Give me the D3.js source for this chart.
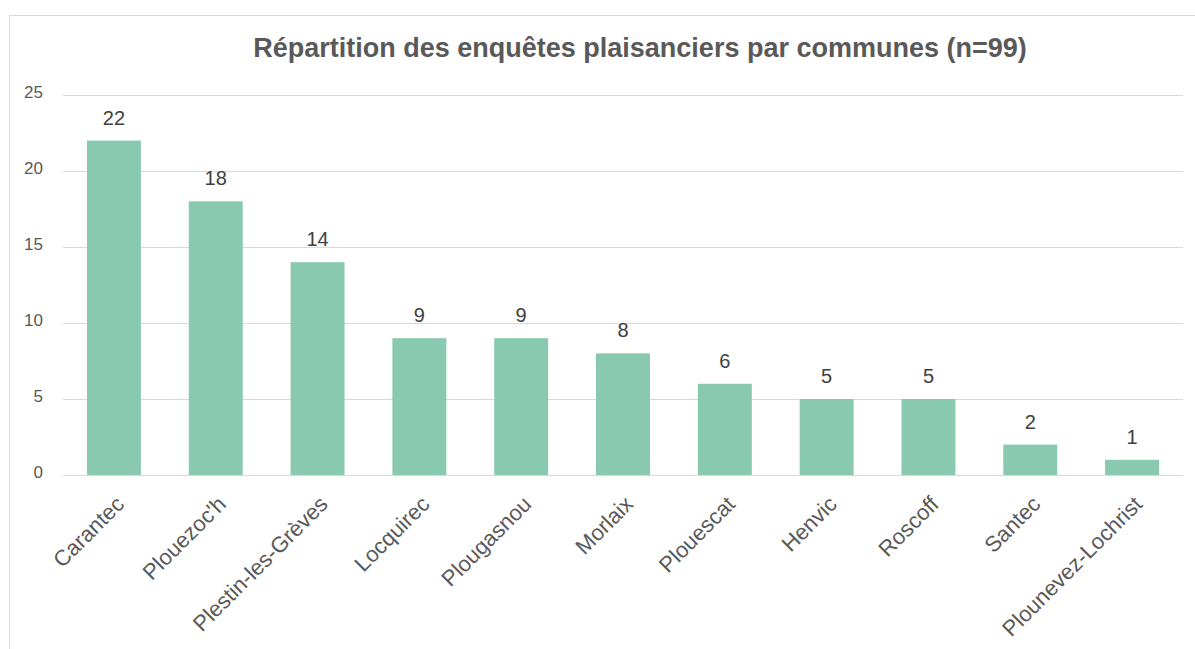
<!DOCTYPE html>
<html lang="fr">
<head>
    <meta charset="UTF-8">
    <title>Répartition des enquêtes plaisanciers</title>
    <script src="https://d3js.org/d3.v7.min.js"></script>
    <style>
        body{ margin:0; background:#fff; }
        svg{ display:block; font-family:"Liberation Sans", Arial, sans-serif; }
        .yAxis text{ font-size:17px; fill:#595959; }
        .xAxis text{ font-size:22px; fill:#595959; }
    </style>
</head>
<body>
<svg width="1195" height="649"></svg>
<script>
    // data
    let communes = ["Carantec", "Plouezoc'h", "Plestin-les-Grèves", "Locquirec", "Plougasnou",
        "Morlaix", "Plouescat", "Henvic", "Roscoff", "Santec", "Plounevez-Lochrist"]
    let enquetes = [22, 18, 14, 9, 9, 8, 6, 5, 5, 2, 1]
    let yTicks = [0, 5, 10, 15, 20, 25]
    let title = "Répartition des enquêtes plaisanciers par communes (n=99)"

    let svg = d3.select('svg')
    let margins = {left:63, right:12, top:95, bottom:174}
    let W = 1195, H = 649

    // chart frame (right & bottom edges fall outside the picture)
    svg.append('rect')
        .attr('x', 9.5).attr('y', 15.5)
        .attr('width', W + 20).attr('height', H + 20)
        .attr('fill', 'none').attr('stroke', '#d9d9d9')

    let xScale = d3.scaleBand()
        .domain(communes)
        .range([margins.left, W - margins.right])
        .paddingInner(0.47).paddingOuter(0.235)
    let yScale = d3.scaleLinear()
        .domain([0, 25])
        .range([H - margins.bottom, margins.top])

    // gridlines
    svg.append('g').selectAll('line')
        .data(yTicks)
        .enter().append('line')
        .attr('x1', margins.left).attr('x2', W - margins.right)
        .attr('y1', d => Math.round(yScale(d)) + 0.5)
        .attr('y2', d => Math.round(yScale(d)) + 0.5)
        .attr('stroke', '#d9d9d9').attr('stroke-width', 1)

    // y axis labels
    let y_axis = svg.append('g')
        .attr('class', 'yAxis')
        .attr('transform', 'translate(' + (margins.left - 20) + ',-3)')
        .call(d3.axisLeft(yScale).tickValues(yTicks).tickSize(0).tickPadding(0))
    y_axis.select('.domain').remove()

    // bars
    svg.append('g').selectAll('rect')
        .data(enquetes)
        .enter().append('rect')
        .attr('x', (d, i) => xScale(communes[i]))
        .attr('y', d => yScale(d))
        .attr('width', xScale.bandwidth())
        .attr('height', d => yScale(0) - yScale(d))
        .attr('fill', '#88c9b0')

    // value labels
    svg.append('g').selectAll('text')
        .data(enquetes)
        .enter().append('text')
        .attr('x', (d, i) => xScale(communes[i]) + xScale.bandwidth() / 2)
        .attr('y', d => yScale(d) - 16)
        .attr('text-anchor', 'middle')
        .attr('font-size', 20)
        .attr('fill', '#404040')
        .text(d => d)

    // x axis (category labels at -45°)
    let x_axis = svg.append('g')
        .attr('class', 'xAxis')
        .attr('transform', 'translate(0,' + yScale(0) + ')')
        .call(d3.axisBottom(xScale).tickSize(0))
    x_axis.select('.domain').remove()
    x_axis.selectAll('text')
        .attr('text-anchor', 'end')
        .attr('dy', '0.35em')
        .attr('transform', 'translate(4,23) rotate(-45)')

    // title
    svg.append('text')
        .attr('x', 640).attr('y', 57)
        .attr('text-anchor', 'middle')
        .attr('font-size', 27).attr('font-weight', 'bold')
        .attr('fill', '#595959')
        .text(title)
</script>
</body>
</html>
